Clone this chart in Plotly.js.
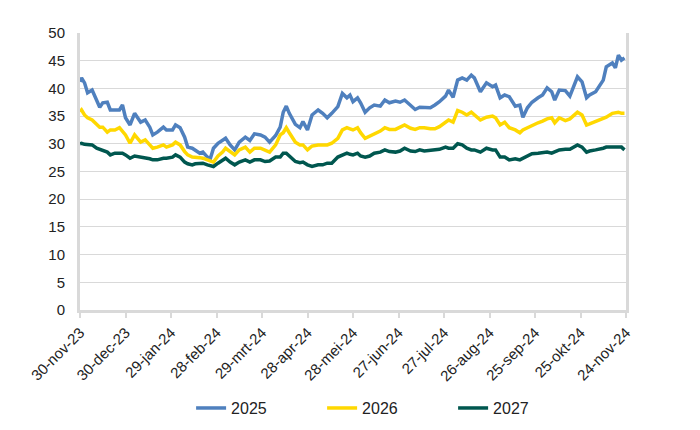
<!DOCTYPE html>
<html>
<head>
<meta charset="utf-8">
<script src="https://cdn.plot.ly/plotly-3.0.1.min.js"></script>
<style>
html,body{margin:0;padding:0;background:#fff;}
#chart{width:700px;height:430px;}
</style>
</head>
<body>
<div id="chart"></div>
<script>
const dates = [
"2023-11-30","2023-12-01","2023-12-03","2023-12-05","2023-12-08","2023-12-11","2023-12-13","2023-12-15","2023-12-18","2023-12-20",
"2023-12-23","2023-12-26","2023-12-28","2023-12-30","2024-01-02","2024-01-05","2024-01-09","2024-01-12","2024-01-15","2024-01-17",
"2024-01-20","2024-01-24","2024-01-26","2024-01-30","2024-02-01","2024-02-04","2024-02-07","2024-02-09","2024-02-12","2024-02-14",
"2024-02-17","2024-02-19","2024-02-22","2024-02-24","2024-02-26","2024-02-29","2024-03-03","2024-03-05","2024-03-08","2024-03-11",
"2024-03-14","2024-03-18","2024-03-21","2024-03-24","2024-03-28","2024-03-31","2024-04-03","2024-04-07","2024-04-10","2024-04-12",
"2024-04-14","2024-04-16","2024-04-20","2024-04-23","2024-04-25","2024-04-28","2024-05-01","2024-05-05","2024-05-08","2024-05-11",
"2024-05-14","2024-05-18","2024-05-21","2024-05-24","2024-05-26","2024-05-28","2024-05-31","2024-06-02","2024-06-05","2024-06-08",
"2024-06-11","2024-06-15","2024-06-18","2024-06-21","2024-06-25","2024-06-28","2024-07-01","2024-07-05","2024-07-08","2024-07-11",
"2024-07-14","2024-07-18","2024-07-21","2024-07-24","2024-07-28","2024-07-30","2024-08-02","2024-08-05","2024-08-08","2024-08-11",
"2024-08-14","2024-08-16","2024-08-20","2024-08-24","2024-08-28","2024-08-30","2024-09-02","2024-09-05","2024-09-08","2024-09-12",
"2024-09-15","2024-09-17","2024-09-20","2024-09-23","2024-09-27","2024-09-30","2024-10-03","2024-10-06","2024-10-08","2024-10-11",
"2024-10-15","2024-10-18","2024-10-23","2024-10-26","2024-10-29","2024-10-31","2024-11-04","2024-11-07","2024-11-09","2024-11-11",
"2024-11-15","2024-11-17","2024-11-19","2024-11-21","2024-11-23"
];

const s2025 = [
41.2,41.9,41.0,39.2,39.7,37.9,36.6,37.4,37.5,36.1,
36.1,36.1,37.0,34.7,33.4,35.5,33.9,34.3,33.0,31.6,
32.1,33.0,32.5,32.5,33.4,32.9,31.2,29.4,29.2,28.9,
28.3,28.5,27.6,27.4,29.2,30.1,30.6,31.0,29.8,28.9,
30.3,31.2,30.6,31.8,31.6,31.2,30.3,31.5,33.0,35.7,
36.8,35.5,33.5,32.9,34.0,32.5,35.2,36.1,35.5,34.7,
35.5,36.7,39.1,38.3,38.8,37.6,38.3,37.4,35.7,36.5,
37.0,36.8,37.9,37.4,37.7,37.5,37.9,37.0,36.2,36.6,
36.6,36.5,37.0,37.6,38.6,39.7,38.4,41.5,41.9,41.5,
42.4,41.9,39.4,41.0,40.3,40.6,38.3,38.8,38.5,36.8,
37.0,34.8,36.5,37.5,38.3,38.8,40.1,39.4,37.9,39.7,
39.6,38.6,42.1,41.2,38.3,38.8,39.4,40.6,41.5,43.9,
44.6,43.7,46.0,45.1,45.5
];

const s2026 = [
35.8,36.1,35.2,34.7,34.3,33.4,33.0,33.0,32.1,32.5,
32.5,32.9,32.2,31.6,30.1,31.6,30.3,30.7,29.8,29.2,
29.4,29.8,29.4,29.8,30.3,29.8,28.6,28.0,27.6,27.6,
27.5,27.4,27.1,26.8,26.7,27.8,28.5,29.2,28.5,28.0,
28.9,29.4,28.5,29.2,29.2,28.8,28.5,29.8,31.6,32.0,
32.9,32.0,30.3,29.8,29.8,28.9,29.6,29.8,29.8,29.8,
30.1,31.0,32.5,32.9,32.7,32.5,32.9,32.0,31.0,31.4,
31.9,32.3,32.9,32.6,32.6,33.0,33.4,32.8,32.6,32.9,
32.9,32.7,32.7,33.1,33.8,34.3,33.9,36.0,35.7,35.2,
35.7,35.2,34.3,34.8,35.0,34.7,33.4,33.9,32.9,32.5,
32.0,32.5,32.9,33.4,33.8,34.1,34.5,34.7,33.8,34.7,
34.2,34.5,35.7,35.2,33.4,33.6,34.0,34.3,34.6,34.8,
35.5,35.6,35.7,35.5,35.5
];

const s2027 = [
30.0,30.1,29.9,29.8,29.8,29.2,29.0,28.9,28.5,28.0,
28.3,28.3,28.3,28.0,27.4,27.8,27.6,27.6,27.3,27.1,
27.1,27.4,27.4,27.6,28.0,27.6,26.7,26.4,26.2,26.4,
26.5,26.5,26.2,26.0,25.9,26.5,27.1,27.4,26.7,26.2,
26.7,27.1,26.7,27.1,27.1,26.8,26.9,27.6,27.6,28.3,
28.3,27.8,26.8,26.6,26.7,26.2,25.9,26.2,26.2,26.5,
26.5,27.6,28.0,28.3,28.1,28.0,28.3,27.8,27.6,27.8,
28.3,28.5,28.9,28.6,28.5,28.7,29.2,28.7,28.6,28.9,
28.7,28.8,28.9,29.0,29.4,29.2,29.2,30.0,29.8,29.2,
28.9,28.9,28.5,29.2,28.9,28.9,27.6,27.6,27.1,27.3,
27.1,27.4,27.9,28.2,28.3,28.4,28.5,28.3,28.6,28.9,
29.0,29.0,29.8,29.4,28.5,28.7,28.9,29.0,29.2,29.4,
29.4,29.3,29.4,29.4,28.9
];

const tickDates = ["2023-11-30","2023-12-30","2024-01-29","2024-02-28","2024-03-29","2024-04-28","2024-05-28","2024-06-27","2024-07-27","2024-08-26","2024-09-25","2024-10-25","2024-11-24"];
const tickLabels = ["30-nov-23","30-dec-23","29-jan-24","28-feb-24","29-mrt-24","28-apr-24","28-mei-24","27-jun-24","27-jul-24","26-aug-24","25-sep-24","25-okt-24","24-nov-24"];

const seriesNames = ["2025","2026","2027"];
const seriesColors = ["#4f80be","#ffd800","#00574f"];
const seriesData = [s2025, s2026, s2027];

const traces = seriesData.map((ys, i) => ({
  type: "scatter",
  mode: "lines",
  x: dates,
  y: ys,
  name: seriesNames[i],
  line: {color: seriesColors[i], width: 3.5}
}));

const layout = {
  width: 700,
  height: 430,
  margin: {l: 80, r: 74, t: 33, b: 120, autoexpand: false},
  paper_bgcolor: "#ffffff",
  plot_bgcolor: "#ffffff",
  font: {family: "Liberation Sans, Arial, sans-serif", size: 15, color: "#222222"},
  showlegend: true,
  legend: {
    orientation: "h",
    xref: "container", yref: "container",
    x: 0.273, xanchor: "left",
    y: 0.051, yanchor: "middle",
    font: {size: 16, color: "#222222"},
    traceorder: "normal",
    entrywidth: 86,
    entrywidthmode: "pixels",
    itemwidth: 30
  },
  xaxis: {
    type: "date",
    range: ["2023-11-30", "2024-11-24"],
    tickmode: "array",
    tickvals: tickDates,
    ticktext: tickLabels,
    tickangle: -45,
    tickfont: {size: 15, color: "#222222"},
    ticks: "outside",
    ticklen: 5,
    tickwidth: 2,
    tickcolor: "#d9d9d9",
    showgrid: false,
    showline: true,
    linecolor: "#d9d9d9",
    linewidth: 3,
    zeroline: false,
    automargin: false,
    fixedrange: true
  },
  yaxis: {
    range: [0, 50],
    tickmode: "linear",
    tick0: 0,
    dtick: 5,
    tickfont: {size: 15, color: "#222222"},
    ticks: "",
    ticklabelstandoff: 9,
    showgrid: true,
    gridcolor: "#d9d9d9",
    gridwidth: 1,
    showline: true,
    mirror: true,
    linecolor: "#d9d9d9",
    linewidth: 3,
    zeroline: false,
    automargin: false,
    fixedrange: true
  }
};

Plotly.newPlot("chart", traces, layout, {displayModeBar: false, staticPlot: true});
</script>
</body>
</html>
